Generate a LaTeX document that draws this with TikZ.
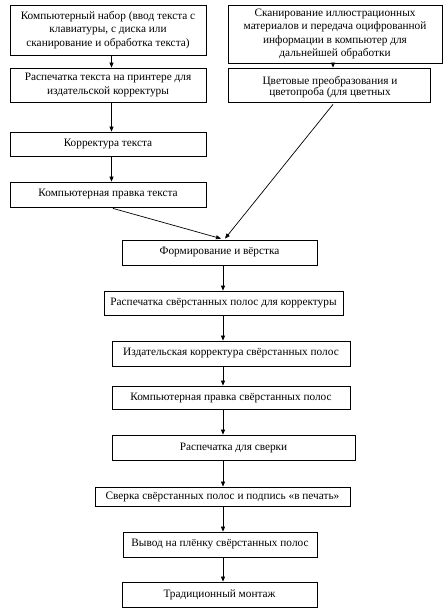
\documentclass[tikz,border=0pt]{standalone}
\usepackage{fontspec}
\setmainfont{Liberation Serif}
\usetikzlibrary{arrows.meta}
\begin{document}
\begin{tikzpicture}[x=1bp,y=-1bp,
  box/.style={draw, line width=0.8bp, inner sep=0pt, align=center, font=\fontsize{11.3bp}{13.5bp}\selectfont},
  txt/.style={inner sep=0pt, align=center, font=\fontsize{11.3bp}{11.5bp}\selectfont},
  arr/.style={-{Triangle[length=5bp,width=4bp]}, line width=0.7bp}]
\useasboundingbox[fill=white] (0,0) rectangle (447,613);
\node[box, minimum width=196bp, minimum height=50bp] (b1) at (108,30)
  {Компьютерный набор (ввод текста с\\клавиатуры, с диска или\\сканирование и обработка текста)};
\node[box, minimum width=196bp, minimum height=34bp] (b2) at (108,85)
  {Распечатка текста на принтере для\\издательской корректуры};
\node[box, minimum width=196bp, minimum height=24bp] (b3) at (108,144) {Корректура текста};
\node[box, minimum width=196bp, minimum height=25bp] (b4) at (108,194.5) {Компьютерная правка текста};
\node[box, minimum width=214bp, minimum height=58bp] (r1) at (335,34)
  {Сканирование иллюстрационных\\материалов и передача оцифрованной\\информации в компьютер для\\дальнейшей обработки};
\node[box, minimum width=202bp, minimum height=34bp] (r2) at (329,85) {};
\node[txt] (r2t) at (330,87) {Цветовые преобразования и\\цветопроба (для цветных};
\node[box, minimum width=195bp, minimum height=25bp] (f) at (219.5,252.5) {Формирование и вёрстка};
\node[box, minimum width=239bp, minimum height=24bp] (p1) at (223.5,303) {Распечатка свёрстанных полос для корректуры};
\node[box, minimum width=238bp, minimum height=25bp] (p2) at (231,353.5) {Издательская корректура свёрстанных полос};
\node[box, minimum width=238bp, minimum height=23bp] (p3) at (231,397.5) {Компьютерная правка свёрстанных полос};
\node[box, minimum width=243bp, minimum height=25bp] (p4) at (233.5,447.5) {Распечатка для сверки};
\node[box, minimum width=255bp, minimum height=19bp] (p5) at (222.5,496.5) {Сверка свёрстанных полос и подпись «в печать»};
\node[box, minimum width=194bp, minimum height=25bp] (p6) at (220,544.5) {Вывод на плёнку свёрстанных полос};
\node[box, minimum width=195bp, minimum height=25bp] (p7) at (219.5,594.5) {Традиционный монтаж};
\coordinate (lx) at (111.5,0);
\coordinate (rx) at (333,0);
\coordinate (cx) at (223,0);
\draw[arr] (b1.south -| lx) -- (b2.north -| lx);
\draw[arr] (b2.south -| lx) -- (b3.north -| lx);
\draw[arr] (b3.south -| lx) -- (b4.north -| lx);
\draw[arr] (r1.south -| rx) -- (r2.north -| rx);
\draw[arr] ([xshift=5bp,yshift=-1bp]b4.south) -- ([xshift=1.5bp,yshift=1bp]f.north);
\draw[arr] ([xshift=4bp,yshift=-2bp]r2.south) -- ([xshift=5.5bp,yshift=1bp]f.north);
\draw[arr] (f.south -| cx) -- (p1.north -| cx);
\draw[arr] (p1.south -| cx) -- (p2.north -| cx);
\draw[arr] (p2.south -| cx) -- (p3.north -| cx);
\draw[arr] (p3.south -| cx) -- (p4.north -| cx);
\draw[arr] (p4.south -| cx) -- (p5.north -| cx);
\draw[arr] (p5.south -| cx) -- (p6.north -| cx);
\draw[arr] (p6.south -| cx) -- (p7.north -| cx);
\end{tikzpicture}
\end{document}
